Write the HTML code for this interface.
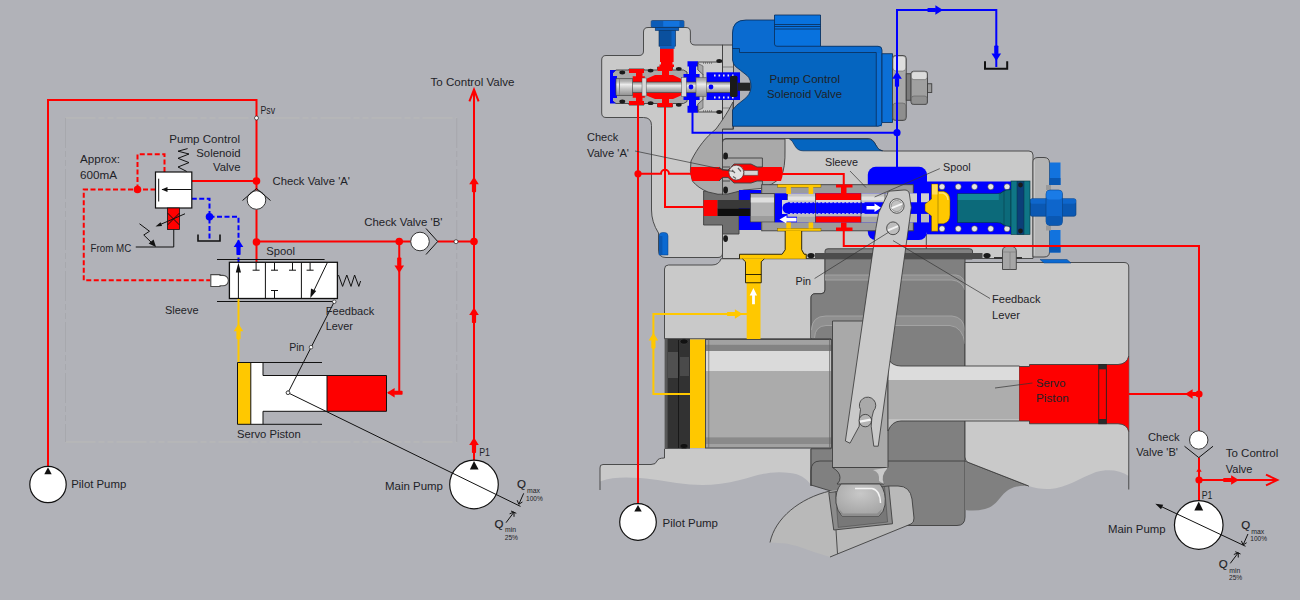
<!DOCTYPE html>
<html lang="en"><head><meta charset="utf-8"><title>Pump Control Solenoid Valve</title>
<style>
html,body{margin:0;padding:0;background:#b1b2b8;overflow:hidden}
svg{display:block}
text{font-family:"Liberation Sans",sans-serif;fill:#1e2227}
.r{stroke:#fe0000;stroke-width:2;fill:none}
.b{stroke:#0000ff;stroke-width:2;fill:none}
.y{stroke:#ffc800;stroke-width:2;fill:none}
.k{stroke:#111;stroke-width:1;fill:none}
.o{stroke:#3e3e3e;stroke-width:0.9}
</style></head><body>
<svg width="1300" height="600" viewBox="0 0 1300 600">
<rect width="1300" height="600" fill="#b1b2b8"/>

<g id="schematic">
<path d="M65.5,118 H456.7 M65.5,442 H456.7" fill="none" stroke="#bdbdb8" stroke-width="0.8" stroke-dasharray="30 3 6 3 6 3"/><path d="M65.5,118 V442 M456.7,118 V442" fill="none" stroke="#a3a4a8" stroke-width="0.7" stroke-dasharray="30 3 6 3 6 3"/>
<path class="r" d="M48,467 V100 H256.5 V190.5 M256.5,209.5 V262.5 M191.75,181 H256.5 M256.5,241.5 H410.6 M437.5,241.5 H474 M474,461 V90 M399.25,241.5 V392.75 H388"/>
<path d="M469.4,101.4 L474,89.6 L478.6,101.4" fill="none" stroke="#fe0000" stroke-width="2" stroke-linejoin="miter"/>
<circle cx="256.5" cy="181" r="3.8" fill="#fe0000"/>
<circle cx="256.5" cy="242" r="3.8" fill="#fe0000"/>
<circle cx="399.25" cy="241.5" r="3.8" fill="#fe0000"/>
<circle cx="474" cy="241.5" r="3.8" fill="#fe0000"/>
<g transform="translate(474 176.7) rotate(0) scale(1.0)" fill="#fe0000"><path d="M0,0 L4.8,7.6 L-4.8,7.6 Z"/><rect x="-2.1" y="7" width="4.2" height="8.6" rx="0.8"/></g>
<g transform="translate(474 307.5) rotate(0) scale(1.0)" fill="#fe0000"><path d="M0,0 L4.8,7.6 L-4.8,7.6 Z"/><rect x="-2.1" y="7" width="4.2" height="8.6" rx="0.8"/></g>
<g transform="translate(474 437.5) rotate(0) scale(1.0)" fill="#fe0000"><path d="M0,0 L4.8,7.6 L-4.8,7.6 Z"/><rect x="-2.1" y="7" width="4.2" height="8.6" rx="0.8"/></g>
<g transform="translate(399.25 273) rotate(180) scale(1.0)" fill="#fe0000"><path d="M0,0 L4.8,7.6 L-4.8,7.6 Z"/><rect x="-2.1" y="7" width="4.2" height="8.6" rx="0.8"/></g>
<g transform="translate(387 392.75) rotate(270) scale(1.0)" fill="#fe0000"><path d="M0,0 L4.8,7.6 L-4.8,7.6 Z"/><rect x="-2.1" y="7" width="4.2" height="8.6" rx="0.8"/></g>
<circle cx="256.5" cy="118" r="2" fill="#fff" stroke="#222" stroke-width="0.7"/>
<circle cx="456" cy="241.7" r="2" fill="#fff" stroke="#222" stroke-width="0.7"/>
<path d="M155.5,189.5 H83.75 V280.25 H210 M137.5,189.5 V154.25 H164.5 V172" fill="none" stroke="#fe0000" stroke-width="2" stroke-dasharray="5 2.5"/>
<circle cx="137.5" cy="189.5" r="3.8" fill="#fe0000"/>
<path d="M191.75,198.75 H209.5 V240 M209.5,216.75 H238.5 V250" fill="none" stroke="#0000ff" stroke-width="2" stroke-dasharray="5 2.5"/>
<path d="M238.5,250 V262" stroke="#0000ff" stroke-width="2" stroke-dasharray="5 2.5" fill="none"/>
<circle cx="209.5" cy="216.75" r="3.8" fill="#0000ff"/>
<g transform="translate(238.5 239.5) rotate(0) scale(1.0)" fill="#0000ff"><path d="M0,0 L4.8,7.6 L-4.8,7.6 Z"/><rect x="-2.1" y="7" width="4.2" height="8.6" rx="0.8"/></g>
<path d="M198,234.5 V241 H220 V234.5" fill="none" stroke="#111" stroke-width="1.6"/>
<rect x="155.5" y="172" width="36.3" height="36" fill="#fff" stroke="#111" stroke-width="1.2"/>
<path class="k" d="M158.7,178.7 V201.5 M162,189.5 H191.5" stroke-width="0.6"/>
<path d="M161.5,189.5 L167.5,187 V192 Z" fill="#111"/>
<path class="k" d="M186.8,171.5 L178,167 L189,162.6 L178,158.3 L189,154 L178,151.2 L187.6,148.6" stroke-width="0.9"/>
<rect x="167.5" y="208" width="12" height="21.5" fill="#fe0000" stroke="#111" stroke-width="0.8"/>
<path class="k" d="M167.5,213 L179.5,225 M179.5,213 L167.5,225" stroke-width="0.8"/>
<path class="k" d="M185,213.75 L158,225.5" stroke-width="0.8"/><path d="M155.5,226.6 L160.6,222.3 L162,226 Z" fill="#111"/>
<path class="k" d="M139.5,223.75 L149.5,231.25 L143.75,235 L153,244" stroke-width="0.9"/><path d="M156,247 L148.6,243.6 L153.6,239.4 Z" fill="#111"/>
<path class="k" d="M173.75,229.5 V247 H135.75" stroke-width="0.8"/>
<circle cx="256.5" cy="200" r="9.3" fill="#fff" stroke="#222" stroke-width="0.9"/>
<path class="k" d="M242.5,200.5 L256.5,188.5 L270.5,200.5" stroke-width="0.9"/>
<circle cx="420" cy="241.5" r="9.3" fill="#fff" stroke="#222" stroke-width="0.9"/>
<path class="k" d="M426,228.5 L437.7,241.5 L426,254.5" stroke-width="0.9"/>
<path class="k" d="M217,259.5 H324.6 M217,301.5 H333.6" stroke-width="1"/>
<rect x="229.4" y="262.3" width="108" height="36.2" fill="#fff" stroke="#111" stroke-width="1.3"/>
<path class="k" d="M265.4,262.3 V298.5 M301.4,262.3 V298.5" stroke-width="1.3"/>
<path class="k" d="M238.4,298 V268 M256.1,262.5 V270.2 M252.6,270.2 H259.6 M274.5,262.5 V270.2 M271,270.2 H278 M292.5,262.5 V270.2 M289,270.2 H296 M274.5,298.5 V290.5 M271,290.5 H278 M310.1,262.5 V270.2 M306.6,270.2 H313.6 M327.4,262.5 L312.5,293.5" stroke-width="0.9"/>
<path d="M238.4,262.8 L241,272.5 H235.8 Z" fill="#111"/><path d="M310.3,298 L311,288.5 L316.2,291 Z" fill="#111"/>
<path d="M210.8,274.6 H220 V275.4 H223 A5.4,5.2 0 0 1 223,285.8 H220 V286.5 H210.8 Z" fill="#fff" stroke="#4a4a4a" stroke-width="1.1"/>
<path class="k" d="M338.5,275 L342.6,286.4 L346.8,275 L351,286.4 L354.6,275 L358.8,286.4 L360.6,281" stroke-width="0.9"/>
<path class="y" d="M238.5,299 V362.5"/>
<g transform="translate(238.5 323.75) rotate(0) scale(1.0)" fill="#ffc800"><path d="M0,0 L4.8,7.6 L-4.8,7.6 Z"/><rect x="-2.1" y="7" width="4.2" height="8.6" rx="0.8"/></g>
<rect x="263" y="375.5" width="64" height="35.8" fill="#fff"/>
<rect x="237.5" y="362.5" width="13.3" height="61.8" fill="#ffc800"/>
<rect x="250.8" y="362.5" width="12.2" height="61.8" fill="#fff"/>
<rect x="327" y="375.5" width="59.5" height="35.8" fill="#fe0000"/>
<path class="k" d="M237.5,362.5 H322 M237.5,424.3 H322 M237.5,362.5 V424.3 M250.8,362.5 V424.3 M263,362.5 V375.5 H386.5 V411.3 H263 V424.3 M327,375.5 V411.3" stroke-width="0.9"/>
<path class="k" d="M334.25,301.75 L288,392.75" stroke-width="0.8"/>
<circle cx="334.25" cy="301.75" r="1.8" fill="#fff" stroke="#222" stroke-width="0.7"/>
<circle cx="311" cy="347.2" r="1.8" fill="#fff" stroke="#222" stroke-width="0.7"/>
<circle cx="288" cy="392.75" r="1.8" fill="#fff" stroke="#222" stroke-width="0.7"/>
<circle cx="48" cy="484.5" r="18.2" fill="#fff" stroke="#111" stroke-width="1.2"/><path d="M48,467.3 L51.7,474.3 H44.3 Z" fill="#111"/>
<circle cx="474" cy="484.5" r="24.3" fill="#fff" stroke="#111" stroke-width="1.2"/><path d="M474,461 L478.6,469.5 H469.9 Z" fill="#111"/>
<path class="k" d="M288,392.75 L520.5,506.4" stroke-width="0.8"/><circle cx="288" cy="392.75" r="1.8" fill="#fff" stroke="#222" stroke-width="0.7"/>
<text x="517" y="488.4" font-size="11.5" fill="#111" stroke="#111" stroke-width="0.15">Q</text><text x="527" y="493" font-size="6.8" textLength="13" lengthAdjust="spacingAndGlyphs">max</text><text x="526" y="500.7" font-size="6.8" textLength="16.7" lengthAdjust="spacingAndGlyphs">100%</text><path class="k" d="M523.7,493.3 L519,503.8 M517.2,500.2 L518.8,504.3 L522.4,502" stroke-width="0.7"/><text x="494.4" y="527.6" font-size="11.5" fill="#111" stroke="#111" stroke-width="0.15">Q</text><text x="505" y="532" font-size="6.8" textLength="11" lengthAdjust="spacingAndGlyphs">min</text><text x="504.7" y="539.6" font-size="6.8" textLength="13.3" lengthAdjust="spacingAndGlyphs">25%</text><path class="k" d="M506,522.7 L513.6,512.6 M509.6,513.8 L514,512 L514,516.8 M511,511 L516.3,513.3" stroke-width="0.7"/>
<text x="260.5" y="113.75" font-size="10" textLength="14.5" lengthAdjust="spacingAndGlyphs">Psv</text>
<text x="169.25" y="142.5" font-size="11.1" textLength="70.75" lengthAdjust="spacingAndGlyphs">Pump Control</text>
<text x="196.25" y="157" font-size="11.1" textLength="44.25" lengthAdjust="spacingAndGlyphs">Solenoid</text>
<text x="213" y="171.25" font-size="11.1" textLength="27.5" lengthAdjust="spacingAndGlyphs">Valve</text>
<text x="80" y="163" font-size="11.1" textLength="40" lengthAdjust="spacingAndGlyphs">Approx:</text>
<text x="80" y="178.75" font-size="11.1" textLength="37" lengthAdjust="spacingAndGlyphs">600mA</text>
<text x="272.5" y="185" font-size="11.1" textLength="77.5" lengthAdjust="spacingAndGlyphs">Check Valve 'A'</text>
<text x="90.5" y="251.75" font-size="10" textLength="40.75" lengthAdjust="spacingAndGlyphs">From MC</text>
<text x="266.25" y="255" font-size="11.1" textLength="28.75" lengthAdjust="spacingAndGlyphs">Spool</text>
<text x="165" y="314" font-size="11.1" textLength="33.5" lengthAdjust="spacingAndGlyphs">Sleeve</text>
<text x="364.25" y="225.75" font-size="11.1" textLength="78.25" lengthAdjust="spacingAndGlyphs">Check Valve 'B'</text>
<text x="325.75" y="314.5" font-size="11.1" textLength="48.5" lengthAdjust="spacingAndGlyphs">Feedback</text>
<text x="325.75" y="330" font-size="11.1" textLength="27.25" lengthAdjust="spacingAndGlyphs">Lever</text>
<text x="289.25" y="350.75" font-size="11.1" textLength="15.25" lengthAdjust="spacingAndGlyphs">Pin</text>
<text x="237" y="438" font-size="11.1" textLength="63.75" lengthAdjust="spacingAndGlyphs">Servo Piston</text>
<text x="71.25" y="488.25" font-size="11.1" textLength="55.0" lengthAdjust="spacingAndGlyphs">Pilot Pump</text>
<text x="385" y="489.5" font-size="11.1" textLength="58" lengthAdjust="spacingAndGlyphs">Main Pump</text>
<text x="479.25" y="456.25" font-size="10" textLength="10.75" lengthAdjust="spacingAndGlyphs">P1</text>
<text x="430.5" y="85.75" font-size="11.1" textLength="84.0" lengthAdjust="spacingAndGlyphs">To Control Valve</text>
</g>
<defs>
<linearGradient id="gs" x1="0" y1="0" x2="0" y2="1"><stop offset="0" stop-color="#9a9a9a"/><stop offset="0.18" stop-color="#b8b8b8"/><stop offset="0.35" stop-color="#ececec"/><stop offset="0.6" stop-color="#c4c4c4"/><stop offset="1" stop-color="#909090"/></linearGradient>
<linearGradient id="gp" x1="0" y1="0" x2="0" y2="1"><stop offset="0" stop-color="#a2a2a2"/><stop offset="0.045" stop-color="#a2a2a2"/><stop offset="0.05" stop-color="#838383"/><stop offset="0.105" stop-color="#838383"/><stop offset="0.11" stop-color="#dadada"/><stop offset="0.29" stop-color="#dadada"/><stop offset="0.295" stop-color="#ababab"/><stop offset="0.9" stop-color="#ababab"/><stop offset="0.905" stop-color="#8a8a8a"/><stop offset="0.96" stop-color="#8a8a8a"/><stop offset="0.965" stop-color="#a2a2a2"/><stop offset="1" stop-color="#a2a2a2"/></linearGradient>
<linearGradient id="gn" x1="0" y1="0" x2="0" y2="1"><stop offset="0" stop-color="#9c9c9c"/><stop offset="0.04" stop-color="#9c9c9c"/><stop offset="0.05" stop-color="#dcdcdc"/><stop offset="0.29" stop-color="#dcdcdc"/><stop offset="0.3" stop-color="#adadad"/><stop offset="0.83" stop-color="#adadad"/><stop offset="0.84" stop-color="#c0c0c0"/><stop offset="1" stop-color="#c2c2c2"/></linearGradient>
<radialGradient id="gb" cx="0.5" cy="0.3" r="0.7"><stop offset="0" stop-color="#c8c8c8"/><stop offset="1" stop-color="#a4a4a4"/></radialGradient>
</defs>
<g id="cutaway">
<path d="M664.5,448.75 H811 V485 C806,478 800,474 790,473 C770,470 755,476 740,480 C722,485 705,485.5 690,484.5 C672,483 655,479 640,478 C625,477 612,477 600,481.5 V468 Q599.5,464.5 603,464.5 H651 Q656,464.5 657,461 Q658,458 664.5,458 Z" fill="#c9c9c9"/>
<path d="M600,490 V468 Q599.5,464.5 603,464.5 H651 Q656,464.5 657,461 Q658,458 664.5,458 V448.75 M811,448.75 V486" fill="none" class="o"/>
<path d="M664.5,338.75 V269 Q664.5,265 668.5,265 H712 Q719,265 721,258.75 H825 V290 Q825,293.75 821,293.75 H815 Q811,293.75 811,298 V338.75 Z" fill="#c9c9c9" class="o"/>
<path d="M825,248.75 H972 V258.75 H965 V517 Q965,525.5 957,525.5 H834 V492 L811,485 V448.75 H831 V338.75 H811 V298 Q811,293.75 815,293.75 H821 Q825,293.75 825,290 Z" fill="#808080" class="o"/>
<path d="M825,275 H956 Q964,276 965,285 V290 Q962,281 952,280 H825 Z" fill="#8f8f8f"/>
<path d="M811,338 V330 Q812,316 826,316 H952 Q964,317 965,331 V344 Q963,327 950,325.5 H826 Q815,326 814.5,338 Z" fill="#8f8f8f"/>
<path d="M825,275 H956 Q964,276 965,285 M825,280 H952 Q962,281 965,290 M811.5,330 Q812,316 826,316 H952 Q964,317 965,331 M814.5,338 Q815,326 826,325.5 H950 Q963,327 965,344" fill="none" stroke="#a6a6a6" stroke-width="0.9"/>
<path d="M820,461 H965 M811,486 V471 Q811,461 820,461" fill="none" class="o"/>
<path d="M965,461 L1028.75,486 Q1018,485 1010,489 C1000,494 998,506 985,509 Q975,511.5 965,510 Z" fill="#808080"/>
<path d="M965,461 L1028.75,486" fill="none" class="o"/>
<path d="M965,262.5 H1124 Q1128.75,262.5 1128.75,267 V476 C1120,470 1108,468.5 1096,472 C1080,478 1066,488 1050,489 Q1038,489.5 1028.75,486 L968,462.3 Q965,461 965,457 Z" fill="#c9c9c9"/>
<path d="M965,457 V262.5 H1124 Q1128.75,262.5 1128.75,267 V489.5 M1028.75,486 L968,462.3 Q965,461 965,457" fill="none" class="o"/>
<rect x="665" y="338.75" width="25" height="110" fill="#323232"/><rect x="664.6" y="338.75" width="3" height="110" fill="#585858"/>
<rect x="668" y="352" width="10" height="26" fill="#505050"/><rect x="680" y="357" width="9" height="19" fill="#4a4a4a"/><path d="M678.5,340 V448" stroke="#111" stroke-width="0.8"/>
<ellipse cx="684" cy="341.5" rx="4" ry="2.6" fill="#111" stroke="#444" stroke-width="0.5"/><ellipse cx="684" cy="446" rx="4" ry="2.6" fill="#111" stroke="#444" stroke-width="0.5"/>
<rect x="690" y="339.5" width="15.5" height="108.5" fill="#ffc800"/>
<rect x="705.5" y="339.5" width="125.8" height="108.5" fill="url(#gp)" class="o"/>
<path d="M708.75,339.5 V448 M829.5,339.5 V448" stroke="#666" stroke-width="0.7"/>
<path d="M832.5,321 H888 V467.5 H832.5 Z" fill="#a9a9a9" class="o"/>
<path d="M888,358.75 Q892,366 901,366 H1019.5 V421 H901 Q892,421 888,431 Z" fill="url(#gn)" class="o"/>
<path d="M1019.5,366.5 H1029.5 V364.5 H1118 Q1127,364 1128.75,356 V431.5 Q1127,424 1118,423.75 H1029.5 V421 H1019.5 Z" fill="#fe0000"/>
<path d="M1029.5,364.5 H1118 Q1127,364 1128.75,356 M1029.5,423.75 H1118 Q1127,424 1128.75,431.5 M1019.5,366.5 H1029.5 V364.5 M1019.5,421 H1029.5 V423.75" fill="none" class="o"/>
<rect x="1098.75" y="364.5" width="7.6" height="59.2" fill="none" stroke="#222" stroke-width="0.9"/><rect x="1099" y="364.7" width="7" height="4.6" fill="#2a2a2a"/><rect x="1099" y="419" width="7" height="4.6" fill="#2a2a2a"/>
<path d="M770,542.5 C775,518 800,498 830,491 L888,486 H898 Q910,486 912,499 L914,519 Q914,523 911,524 L830,557 C815,553 800,546 786,543.5 Z" fill="#b9b9b9"/>
<path d="M770,542.5 C775,518 800,498 830,491 M888.75,486 H898 Q910,486 912,499 L914,518 M836,530 L837.5,553.75 M830,557 L911,524 Q914,523 914,518" fill="none" class="o"/>
<path d="M828.75,492.5 L888.75,486 L892.5,523.75 L833.75,530 Z" fill="#8c8c8c" class="o"/>
<path d="M835.5,491.8 L884.5,486.5 L887.6,522 L838.2,527.4 Z" fill="#787878" stroke="#444" stroke-width="0.5"/>
<path d="M832.5,467.5 H888 Q880,472 881,477.5 Q881,481 884,484 H837 Q840.5,481 840,477.5 Q840,472 832.5,467.5 Z" fill="#969696" class="o"/>
<path d="M873,470 Q880,472 879,481 L884,484 Q880,476 888,467.5 Z" fill="#c9c9c9"/>
<path d="M841,484 H880 Q886.5,492 885,505 Q884,512 879,516 H842 Q837,511 836,503 Q835,491 841,484 Z" fill="url(#gb)" class="o"/>
<path d="M855,488.5 H872 Q880,490 880.5,503" fill="none" stroke="#f4f4f4" stroke-width="1.4"/><path d="M839,509 L843,513.5 H877 L882,509 L879,516 H842 Z" fill="#8e8e8e"/>
<path d="M601.7,60 Q601.7,55.5 606,55.5 H639 Q643.5,55.5 643.5,51 V32 Q643.5,27.5 648,27.5 H686 Q690.4,27.5 690.4,32 V40.5 Q690.4,45 695,45 H722.5 V253 Q722.5,257.5 718,257.5 H666 Q658.5,257.5 658.5,250 V233 Q651.5,222 651.5,210 V125.5 Q651.5,117.5 643.5,117.5 H606 Q601.7,117.5 601.7,113 Z" fill="#c9c9c9" class="o"/>
<rect x="722.5" y="45" width="11" height="84" fill="#c4c4c4" class="o"/>
<path d="M722.5,67 H733 M722.5,108 H733" stroke="#555" stroke-width="0.6"/>
<path d="M722.5,142 Q722.5,138.5 726,138.5 H868 Q873,138.5 875.8,145 Q878.5,151 884,151 H1029 Q1033,151 1033,155 V258.5 H722.5 Z" fill="#c9c9c9" class="o"/>
<path d="M926.3,234 V258.5" class="o" fill="none"/>
<path d="M1033,162 Q1033,157.5 1038,157.5 H1044 Q1049.5,157.5 1049.5,163 V252 Q1049.5,257 1044,257 H1033 Z" fill="#b4b4b4" class="o"/>
<path d="M1034.4,160 V255.5" stroke="#c6c6c6" stroke-width="1.2"/>
<rect x="1049.5" y="162.5" width="11" height="22.5" fill="#1273de"/><rect x="1049.5" y="178" width="11" height="7" fill="#0a58b3"/>
<rect x="1049.5" y="230" width="11" height="22.5" fill="#1273de"/><rect x="1049.5" y="246" width="11" height="6.5" fill="#0a58b3"/>
<rect x="1046" y="185" width="5" height="5" fill="#9a9a9a"/><rect x="1046" y="225.5" width="5" height="5" fill="#9a9a9a"/>
<path d="M1040,259.5 H1067 L1071,263 H1044 Z" fill="#0b69d1" stroke="#0a3f7d" stroke-width="0.5"/>
<rect x="1030" y="198.75" width="46" height="17.5" rx="2" fill="#0a58b3" stroke="#0a3f7d" stroke-width="0.6"/>
<rect x="1030" y="198.75" width="46" height="5" rx="2" fill="#0e66cc"/>
<path d="M1046,194 Q1046,190 1050,190 H1058.5 Q1062.5,190 1062.5,194 V221.5 Q1062.5,225.5 1058.5,225.5 H1050 Q1046,225.5 1046,221.5 Z" fill="#0e66cc" stroke="#0a3f7d" stroke-width="0.6"/>
<rect x="1046.4" y="190.4" width="15.7" height="9" rx="3" fill="#1a7be6"/><rect x="1046.4" y="216" width="15.7" height="9" rx="3" fill="#0a58b3"/>
<path d="M703.6,191 H739 V234 H722.5 V225 H703.6 Z" fill="#6f6f6f" class="o"/>
<path d="M733,102 C728,112 722.5,120 716,129 C706,137 698,147 691,161 Q689,171 692.4,181 Q698,188 708,192 Q718,195.5 728,194 L744,190 L760,188.6 Q772,186 781,177 Q785.5,168 785,149 V139 H726 Q722.5,139 722.5,142 V129 H733 Z" fill="#a9a9a9" class="o"/>
<path d="M722.5,129 V195" class="o" fill="none"/>
<path d="M722.5,158 H762.4 V188 M722.5,167 H730 M722.5,181 H730" fill="none" class="o"/>
<path d="M691,167 H719 L722.5,170 H728 L734,164 H751 L757,167 H781.8 Q784,174 781,181 H757 L751,183 H734 L728,177.4 H722.5 L719,181 H692.4 Q689.3,174 691,167 Z" fill="#fe0000"/>
<path d="M719,167 L722.5,170 H728 L734,164 H751 L757,167 H762.4 M719,181 L722.5,177.4 H728 L734,183 H751 L757,181 H762.4" fill="none" class="o"/>
<rect x="744" y="170.6" width="14" height="4.6" fill="#d4d4d4" stroke="#555" stroke-width="0.6"/>
<circle cx="736.3" cy="172.6" r="7.4" fill="#e2e2e2" stroke="#444" stroke-width="0.7"/>
<path d="M732,170 L735,173 M738,168 L741,171.5 M733,176.5 L736,178.5" stroke="#666" stroke-width="1.2" fill="none"/>
<ellipse cx="725.6" cy="156" rx="2.4" ry="3.4" fill="#1a1a1a"/>
<ellipse cx="725.6" cy="190" rx="2.4" ry="3.4" fill="#1a1a1a"/>
<ellipse cx="725.6" cy="238.6" rx="2.4" ry="3.4" fill="#1a1a1a"/>
<rect x="867.8" y="166.8" width="59.2" height="73.2" rx="8" fill="#0000ff"/>
<rect x="927" y="181.5" width="84.5" height="52.8" fill="#0000ff"/>
<rect x="703.6" y="200" width="14" height="16" fill="#fe0000"/>
<path d="M739,190 H761 V230 H739 Z" fill="#0000ff"/>
<rect x="717.6" y="200" width="33" height="8.5" fill="#383838"/><rect x="717.6" y="208.5" width="33" height="7.5" fill="#0e0e0e"/>
<rect x="761.7" y="184.7" width="151.6" height="46.1" fill="#9c9c9c" class="o"/>
<rect x="774.4" y="193.3" width="154.6" height="29.1" fill="#0000ff"/>
<rect x="750.4" y="193.6" width="24" height="28.2" fill="#b2b2b2" class="o"/><rect x="750.8" y="197.5" width="23.2" height="5" fill="#dedede"/><rect x="750.8" y="216" width="23.2" height="5.4" fill="#9c9c9c"/>
<rect x="787.5" y="193.3" width="28" height="9.2" fill="#c6c6c6"/><rect x="787.5" y="196.5" width="28" height="4" fill="#e2e2e2"/>
<rect x="782" y="200" width="6" height="14" fill="#d4d4d4"/>
<rect x="797" y="213.7" width="18.5" height="8.7" fill="#a8a8a8"/><rect x="787.5" y="213.7" width="28" height="3" fill="#c0c0c0"/>
<rect x="815.5" y="193.3" width="45.5" height="6.7" fill="#fe0000"/><rect x="815.5" y="200" width="45.5" height="2.5" fill="#dcdcdc"/>
<rect x="815.5" y="216.3" width="45.5" height="6.1" fill="#fe0000"/><rect x="815.5" y="213.7" width="45.5" height="2.6" fill="#b8b8b8"/>
<rect x="861" y="193.3" width="48" height="9.2" fill="#c2c2c2"/><rect x="861" y="196.5" width="48" height="4" fill="#e0e0e0"/>
<rect x="861" y="213.7" width="48" height="8.7" fill="#a6a6a6"/><rect x="861" y="213.7" width="48" height="3" fill="#c4c4c4"/>
<rect x="909" y="193.3" width="8" height="9.2" fill="#d0d0d0"/><rect x="921" y="193.3" width="8" height="9.2" fill="#d0d0d0"/><rect x="909" y="213.7" width="8" height="8.7" fill="#bcbcbc"/><rect x="921" y="213.7" width="8" height="8.7" fill="#bcbcbc"/>
<path d="M788,202.5 H929 V213.7 H788 A5.6,5.6 0 0 1 788,202.5 Z" fill="#0000ff"/>
<path d="M790,202.6 H866 M790,213.6 H866" stroke="#e8e8e8" stroke-width="0.8" stroke-dasharray="2.5 1.5"/>
<path d="M815.5,193.3 V222.4 M861,193.3 V222.4 M787.5,193.3 V200 M885,193.3 V202.5 M885,213.7 V222.4" stroke="#333" stroke-width="0.6"/>
<path d="M866.5,206 H874.5 V203.6 L881,207.8 L874.5,212 V209.6 H866.5 Z" fill="#fff"/>
<path d="M796.5,217.8 H786.5 V215.6 L779.5,219.6 L786.5,223.6 V221.4 H796.5 Z" fill="#fff"/>
<rect x="777.5" y="184.4" width="43.5" height="2.8" fill="#ffc800" stroke="#6b5500" stroke-width="0.4"/><rect x="777.5" y="228.2" width="43.5" height="2.8" fill="#ffc800" stroke="#6b5500" stroke-width="0.4"/>
<rect x="786.3" y="187" width="4.6" height="7" fill="#ffc800"/><rect x="786.3" y="222.4" width="4.6" height="6" fill="#ffc800"/>
<rect x="808.6" y="187" width="4.6" height="7" fill="#ffc800"/><rect x="808.6" y="222.4" width="4.6" height="6" fill="#ffc800"/>
<path d="M785.2,231 H801.7 V249.75 L804,253.8 H806.25 V258.75 H739.5 V254.25 H782.25 L785.2,249.75 Z" fill="#ffc800"/>
<path d="M785.2,231 V249.75 L782.25,254 M801.7,231 V249.75 L804,254 M739.5,258.75 V254.25 H782.25 M804,254.25 H806.25 V258.75" fill="none" stroke="#1c1600" stroke-width="0.9"/>
<rect x="746.7" y="262" width="13.8" height="77" fill="#ffc800"/>
<path d="M742.5,258.75 H764.25 L761.25,261.75 V282.75 H745.5 V261.75 Z" fill="#ffc800"/>
<path d="M742.5,258.9 L745.5,261.75 V282.75 H761.25 V261.75 L764.25,258.9 M745.5,274.5 H761.25" fill="none" stroke="#1c1600" stroke-width="0.9"/>
<path d="M752.1,304.2 V295.5 H749.7 L753.4,288 L757.1,295.5 H754.9 V304.2 Z" fill="#fff"/>
<path d="M836,184.4 H852.5 V187.6 H846.5 V194 H841 V187.6 H836 Z M841,222.4 H846.5 V227.6 H852.5 V231 H836 V227.6 H841 Z" fill="#fe0000"/>
<path d="M925,204 L931.5,199 V184 H938 V191.2 H943.5 Q950,193 950,200 V215 Q950,222 943.5,223.8 H938 V231.3 H931.5 V216 L925,211 Z" fill="#ffc800" stroke="#5c4a00" stroke-width="0.5"/>
<path d="M938,191.3 V223.7" stroke="#8a6e00" stroke-width="0.6"/><rect x="932" y="184.5" width="5.5" height="10" fill="#ffdc5a"/><path d="M939,193 H943 Q947.5,194.5 948,200" stroke="#ffe27a" stroke-width="1.4" fill="none"/>
<circle cx="942" cy="186.75" r="3" fill="#e4e4e4" stroke="#333" stroke-width="0.5"/><circle cx="942" cy="228.75" r="3" fill="#e4e4e4" stroke="#333" stroke-width="0.5"/>
<circle cx="958.25" cy="186.75" r="3" fill="#e4e4e4" stroke="#333" stroke-width="0.5"/><circle cx="958.25" cy="228.75" r="3" fill="#e4e4e4" stroke="#333" stroke-width="0.5"/>
<circle cx="974.5" cy="186.75" r="3" fill="#e4e4e4" stroke="#333" stroke-width="0.5"/><circle cx="974.5" cy="228.75" r="3" fill="#e4e4e4" stroke="#333" stroke-width="0.5"/>
<circle cx="990.75" cy="186.75" r="3" fill="#e4e4e4" stroke="#333" stroke-width="0.5"/><circle cx="990.75" cy="228.75" r="3" fill="#e4e4e4" stroke="#333" stroke-width="0.5"/>
<circle cx="1007" cy="186.75" r="3" fill="#e4e4e4" stroke="#333" stroke-width="0.5"/><circle cx="1007" cy="228.75" r="3" fill="#e4e4e4" stroke="#333" stroke-width="0.5"/>
<path d="M957.5,193.75 H997 Q1001,193.5 1003,191.5 Q1006,189.5 1011,189.5 V226.5 Q1006,226.5 1003,224.5 Q1001,222.7 997,222.5 H957.5 Z" fill="#0c6a7a" stroke="#063742" stroke-width="0.6"/>
<path d="M1000,193.5 Q1003,192 1004,190.5 V225.5 Q1003,224 1000,222.7" fill="none" stroke="#063742" stroke-width="0.5"/>
<rect x="957.8" y="194" width="41" height="6" fill="#12899a"/>
<rect x="1011" y="181" width="19" height="53.5" fill="#0f7686" stroke="#063742" stroke-width="0.6"/>
<rect x="1017" y="181.3" width="7" height="53" fill="#0b3f78" stroke="#063742" stroke-width="0.5"/><circle cx="1020.5" cy="185" r="2.4" fill="#1a1a1a"/><circle cx="1020.5" cy="231" r="2.4" fill="#1a1a1a"/>
<path d="M659,236 Q659,232.5 662.5,232.5 H664.5 Q668,232.5 668,236 V255 H659 Z" fill="#0b69d1" stroke="#0a3f7d" stroke-width="0.5"/><rect x="659" y="236" width="3.4" height="19" fill="#0a58b3"/>
<path d="M825,258.8 V251 Q825,248.75 828,248.75 H969.5 Q972.5,248.75 972.5,251 V258.8 Z" fill="#808080" class="o"/>
<rect x="815" y="253" width="167.5" height="5.8" fill="#4c4c4c"/>
<ellipse cx="811" cy="255.6" rx="3.6" ry="2.6" fill="#1a1a1a"/><ellipse cx="987" cy="255.6" rx="3.6" ry="2.6" fill="#1a1a1a"/>
<rect x="994" y="257" width="28" height="2" fill="#333"/>
<path d="M1002.5,269.5 V251 Q1002.5,246 1009.4,246 Q1016.3,246 1016.3,251 V269.5 Z" fill="#a6a6a6" class="o"/><path d="M1002.5,252 H1016.3 M1010,252 V269.5" fill="none" stroke="#777" stroke-width="0.6"/>
<path d="M612.5,73 L616,70 H629 V69 H644 V70 H657.5 V67 H672.5 V70 H683.5 L687,72 V101.5 L683.5,103.5 H672.5 V107 H657.5 V103.5 H644 V105 H629 V103.5 H616 L612.5,101 Z" fill="#a8a8a8" class="o"/>
<path d="M610,70 H616 L613,73 V101 L616,103.5 H610 Z" fill="#0000ff"/><rect x="613" y="76" width="4" height="22" fill="#0000ff"/>
<path d="M629,69 H644 V73 H642.5 V76.3 H644.8 V82 H632.7 V76.3 H636 V73 H629 Z M629,105 H644 V101 H642.5 V97.7 H644.8 V92.5 H632.7 V97.7 H636 V101 H629 Z" fill="#fe0000"/>
<path d="M660,48 H673.6 V62 H672.5 V64.5 H674 V67 H672.5 V71 H669 V75 H673 L681,78.7 V82 H646.5 V78.7 L655,75 H662 V71 H657.5 V67 H659.5 V64.5 H661 V62 H660 Z" fill="#fe0000"/>
<path d="M646.5,92.5 H681 V95.4 L673,99 H669 V103 H672.5 V107 H657.5 V103 H662 V99 H655 L646.5,95.4 Z" fill="#fe0000"/>
<path d="M687.5,61.3 H698 V66.5 H696 V74 H699.6 V82 H683.5 V74 H689 V66.5 H687.5 Z M687.5,112.7 H698 V105.8 H696 V100 H699.6 V92.5 H683.5 V100 H689 V105.8 H687.5 Z" fill="#0000ff"/>
<path d="M698,62 H722.5 V112 H698 V104 L703,100 V74 L698,70 Z" fill="#cbcbcb" class="o"/>
<path d="M698,63.5 L703,66 V74.5 L698,70 Z M698,110.5 L703,108 V99.5 L698,104 Z" fill="#a8a8a8" stroke="#3a3a3a" stroke-width="0.5"/>
<path d="M703,63 H713 M703,111 H713" stroke="#444" stroke-width="1" stroke-dasharray="1 1"/>
<rect x="706.5" y="72.3" width="33.5" height="27.7" fill="#0000ff"/>
<path d="M714,75.5 H735 M714,97.5 H735" stroke="#e6e6e6" stroke-width="1.8" stroke-dasharray="1.6 2.9"/>
<path d="M722.5,62 V72.3 M722.5,100 V112" stroke="#3a3a3a" stroke-width="0.8"/>
<rect x="616" y="82" width="115" height="10.5" fill="url(#gs)" stroke="#3a3a3a" stroke-width="0.6"/>
<rect x="616" y="78.7" width="16.7" height="16.7" fill="url(#gs)" stroke="#3a3a3a" stroke-width="0.6"/><rect x="619" y="79" width="1" height="16" fill="#888"/>
<rect x="642" y="78" width="4.2" height="18" fill="#d8d8d8" stroke="#555" stroke-width="0.5"/><rect x="681.7" y="77.5" width="4.6" height="19" fill="#d8d8d8" stroke="#555" stroke-width="0.5"/><rect x="696" y="77.5" width="10.5" height="19" fill="url(#gs)" stroke="#555" stroke-width="0.5"/>
<circle cx="691" cy="87" r="2.4" fill="#0000ff"/><circle cx="711" cy="87" r="2.4" fill="#0000ff"/>
<rect x="730" y="75.8" width="7.5" height="21.2" rx="1.8" fill="#1a1a1a"/><rect x="737.5" y="82.7" width="13" height="8.1" fill="#242424"/>
<ellipse cx="622.3" cy="72.5" rx="2.9" ry="1.9" fill="#1a1a1a"/>
<ellipse cx="622.3" cy="101.5" rx="2.9" ry="1.9" fill="#1a1a1a"/>
<ellipse cx="650.6" cy="70.6" rx="2.9" ry="1.9" fill="#1a1a1a"/>
<ellipse cx="650.6" cy="103.2" rx="2.9" ry="1.9" fill="#1a1a1a"/>
<ellipse cx="678.8" cy="68.8" rx="2.9" ry="1.9" fill="#1a1a1a"/>
<ellipse cx="678.8" cy="104.8" rx="2.9" ry="1.9" fill="#1a1a1a"/>
<ellipse cx="719.2" cy="61" rx="2.9" ry="1.9" fill="#1a1a1a"/>
<ellipse cx="719.2" cy="112" rx="2.9" ry="1.9" fill="#1a1a1a"/>
<rect x="659" y="30" width="16.5" height="16.2" fill="#0a509e" stroke="#0a2c55" stroke-width="0.6"/><rect x="671.5" y="30.5" width="3.6" height="15.4" fill="#0c62c4"/>
<rect x="660" y="46" width="14.6" height="2.8" fill="#0c62c4"/>
<rect x="655.2" y="27.4" width="23.6" height="3.2" fill="#0b5cb8" stroke="#0a2c55" stroke-width="0.5"/>
<rect x="651.2" y="20.5" width="32.8" height="6.8" rx="1.2" fill="#1273de" stroke="#0a2c55" stroke-width="0.6"/><rect x="651.6" y="21" width="11.6" height="6" fill="#0b5cb8"/><rect x="679.5" y="21" width="4" height="6" fill="#0b5cb8"/>
<path d="M732.5,33 Q732.5,20 746,20 H774.5 V15 H820.5 V46.25 H878 Q882,46.25 882,50 V122.5 Q882,126.25 878,126.25 H732.5 V110 Q736,105 742,101 Q751,95 751,87 Q751,79 747,75.5 Q740,70 735.5,66.5 Q733,64 732.5,60 Z" fill="#0565c0"/>
<path d="M732.5,48.5 V33 Q732.5,20 746,20 H774.5 V46.25 H878 Q882,46.25 882,50 V52.5 H739.5 V48.5 Z" fill="#0a6bd0"/>
<rect x="774.5" y="15" width="46" height="31.25" fill="#0872de"/>
<rect x="876.25" y="52.5" width="5.75" height="73.7" fill="#0b6fd6"/>
<path d="M732.5,33 Q732.5,20 746,20 H774.5 V15 H820.5 V46.25 H878 Q882,46.25 882,50 V122.5 Q882,126.25 878,126.25 H732.5 V110 Q736,105 742,101 Q751,95 751,87 Q751,79 747,75.5 Q740,70 735.5,66.5 Q733,64 732.5,60 Z" fill="none" stroke="#0a2c55" stroke-width="0.8"/>
<path d="M732.5,48.5 H739.5 V52.5 H876.25 V126 M774.5,20 V44 Q774.5,46.25 777,46.25 H820.5 M774.5,24.5 H820.5 M774.5,26.5 H820.5 M774.5,29 H820.5" fill="none" stroke="#0a2c55" stroke-width="0.8"/>
<rect x="882" y="53.75" width="10.5" height="68.75" fill="#0b6fd6" stroke="#0a2c55" stroke-width="0.8"/>
<path d="M789.5,139 H868 Q873,139 875.8,145 Q878.5,150.8 882.5,150.8 H803 Q797.5,150.8 794.7,145.5 Q792,139.6 789.5,139 Z" fill="#0565c0" stroke="#0a2c55" stroke-width="0.7"/>
<rect x="892.5" y="55.5" width="13.75" height="65" rx="3" fill="#a8a8a8" class="o"/>
<rect x="893" y="56" width="12.75" height="15" rx="3" fill="#dedede" stroke="#555" stroke-width="0.5"/><rect x="893" y="103" width="12.75" height="17" rx="3" fill="#8e8e8e" stroke="#555" stroke-width="0.5"/>
<rect x="906.25" y="73.75" width="5" height="26.5" fill="#7c7c7c" class="o"/>
<rect x="911" y="71.25" width="16.5" height="33.25" rx="2.5" fill="#a0a0a0" class="o"/>
<rect x="911.4" y="71.6" width="15.7" height="8" rx="2.5" fill="#dcdcdc" stroke="#555" stroke-width="0.5"/><rect x="911.4" y="96" width="15.7" height="8.2" rx="2.5" fill="#909090" stroke="#555" stroke-width="0.5"/>
<rect x="927.5" y="83.75" width="4.25" height="8.75" fill="#9a9a9a" class="o"/>
<path d="M887.4,194.5 Q887,191.4 890,191.1 L904,190 Q908.6,189.6 909.4,194 L911.3,207.5 L878.2,446.2 L873.8,446.2 L871.2,426.2 Q871.5,416 873.5,411 A8.2,8.2 0 1 0 860.5,409.5 Q859,418 859.2,426.2 L850,443.2 L845.4,441 L873.75,245 Q875.5,228 878.75,212.5 Z" fill="#c9c9c9" stroke="#333" stroke-width="0.8" stroke-linejoin="round"/>
<circle cx="896.8" cy="206" r="7.3" fill="#d9d9d9" stroke="#333" stroke-width="0.8"/><circle cx="896.8" cy="206" r="5.6" fill="#c2c2c2" stroke="#666" stroke-width="0.5"/><path d="M891.6,208.2 L902,203.8" stroke="#f6f6f6" stroke-width="2"/>
<circle cx="893" cy="228.3" r="6.4" fill="#bdbdbd" stroke="#333" stroke-width="0.8"/><path d="M888,230.4 L898,226.2" stroke="#f2f2f2" stroke-width="2"/>
<circle cx="865.3" cy="420.6" r="6.2" fill="#b4b4b4" stroke="#333" stroke-width="0.8"/><path d="M860,421.6 L870.6,419.6" stroke="#f4f4f4" stroke-width="2.2"/>
<path class="r" d="M638,104 V504 M665,105 V207 H703.6 M638,173.8 H661 A4,4 0 0 1 669,173.8 H691 M782,174 H843.75 V185 M843.75,230.8 V246 H1199 V431 M1199,457.5 V501.5 M1128.75,394 H1199 M1199,480 H1276"/>
<path d="M1266,474.6 L1277.4,480 L1266,485.4" fill="none" stroke="#fe0000" stroke-width="2"/>
<circle cx="638" cy="173.8" r="3.6" fill="#fe0000"/>
<circle cx="1199" cy="394" r="3.6" fill="#fe0000"/>
<circle cx="1199" cy="480" r="3.6" fill="#fe0000"/>
<g transform="translate(1185 394) rotate(270) scale(1.0)" fill="#fe0000"><path d="M0,0 L4.8,7.6 L-4.8,7.6 Z"/><rect x="-2.1" y="7" width="4.2" height="8.6" rx="0.8"/></g>
<g transform="translate(1238.75 480) rotate(90) scale(1.0)" fill="#fe0000"><path d="M0,0 L4.8,7.6 L-4.8,7.6 Z"/><rect x="-2.1" y="7" width="4.2" height="8.6" rx="0.8"/></g>
<path d="M1199,467.6 L1201.7,471.8 H1196.3 Z" fill="#fe0000"/>
<path class="b" d="M692.5,112 V132.7 H897 M897,167 V10 H996.3 V67"/>
<circle cx="897" cy="132.7" r="3.6" fill="#0000ff"/>
<g transform="translate(897 71.25) rotate(0) scale(1.0)" fill="#0000ff"><path d="M0,0 L4.8,7.6 L-4.8,7.6 Z"/><rect x="-2.1" y="7" width="4.2" height="8.6" rx="0.8"/></g>
<g transform="translate(943 10) rotate(90) scale(1.0)" fill="#0000ff"><path d="M0,0 L4.8,7.6 L-4.8,7.6 Z"/><rect x="-2.1" y="7" width="4.2" height="8.6" rx="0.8"/></g>
<g transform="translate(996.3 61) rotate(180) scale(1.0)" fill="#0000ff"><path d="M0,0 L4.8,7.6 L-4.8,7.6 Z"/><rect x="-2.1" y="7" width="4.2" height="8.6" rx="0.8"/></g>
<path d="M985,61.2 V68.7 H1007.2 V61.2" fill="none" stroke="#111" stroke-width="2"/>
<path class="y" d="M747,314 H653.4 V394 H690"/>
<g transform="translate(742.5 314) rotate(90) scale(1.0)" fill="#ffc800"><path d="M0,0 L4.8,7.6 L-4.8,7.6 Z"/><rect x="-2.1" y="7" width="4.2" height="8.6" rx="0.8"/></g>
<g transform="translate(653.4 333) rotate(0) scale(1.0)" fill="#ffc800"><path d="M0,0 L4.8,7.6 L-4.8,7.6 Z"/><rect x="-2.1" y="7" width="4.2" height="8.6" rx="0.8"/></g>
<circle cx="638" cy="522" r="18.3" fill="#fff" stroke="#111" stroke-width="1.2"/><path d="M638,505 L641.75,511.6 H634.25 Z" fill="#111"/>
<circle cx="1198.75" cy="525" r="24.3" fill="#fff" stroke="#111" stroke-width="1.2"/><path d="M1198.75,501.6 L1203.2,510.6 H1194.3 Z" fill="#111"/>
<path class="k" d="M1245.5,546.25 L1158,505" stroke-width="0.7"/><path d="M1155.3,503.7 L1163.2,504.7 L1161,509.3 Z" fill="#111"/>
<circle cx="1198.75" cy="440" r="9.2" fill="#fff" stroke="#222" stroke-width="0.9"/><path class="k" d="M1184.5,446.25 L1198.75,457.6 L1213,446.25" stroke-width="0.9"/>
<text x="1241.25" y="529.1" font-size="11.5" fill="#111" stroke="#111" stroke-width="0.15">Q</text><text x="1251.25" y="533.7" font-size="6.8" textLength="13.0" lengthAdjust="spacingAndGlyphs">max</text><text x="1250.25" y="541.4" font-size="6.8" textLength="16.7" lengthAdjust="spacingAndGlyphs">100%</text><path class="k" d="M1247.95,534.0 L1243.25,544.5 M1241.45,540.9 L1243.05,545.0 L1246.65,542.7" stroke-width="0.7"/><text x="1218.65" y="568.3000000000001" font-size="11.5" fill="#111" stroke="#111" stroke-width="0.15">Q</text><text x="1229.25" y="572.7" font-size="6.8" textLength="11.0" lengthAdjust="spacingAndGlyphs">min</text><text x="1228.95" y="580.3000000000001" font-size="6.8" textLength="13.3" lengthAdjust="spacingAndGlyphs">25%</text><path class="k" d="M1230.25,563.4000000000001 L1237.85,553.3000000000001 M1233.85,554.5 L1238.25,552.7 L1238.25,557.5 M1235.25,551.7 L1240.55,554.0" stroke-width="0.7"/>
<path d="M635,151 L733,171.5 M850,171 L866,187.5 M939.8,168.6 L874.6,197 M814.6,278.5 L889,232 M893,240.6 L990,298.5 M1032.5,383 L995,388" fill="none" stroke="#333" stroke-width="0.7"/>
<text x="769.5" y="83" font-size="11.1" textLength="70.5" lengthAdjust="spacingAndGlyphs">Pump Control</text>
<text x="767" y="97.5" font-size="11.1" textLength="75" lengthAdjust="spacingAndGlyphs">Solenoid Valve</text>
<text x="587" y="141" font-size="11.1" textLength="31.3" lengthAdjust="spacingAndGlyphs">Check</text>
<text x="587" y="156.5" font-size="11.1" textLength="42" lengthAdjust="spacingAndGlyphs">Valve 'A'</text>
<text x="825" y="165.5" font-size="11.1" textLength="33" lengthAdjust="spacingAndGlyphs">Sleeve</text>
<text x="943" y="170.8" font-size="11.1" textLength="27.6" lengthAdjust="spacingAndGlyphs">Spool</text>
<text x="795.5" y="284.5" font-size="11.1" textLength="15.5" lengthAdjust="spacingAndGlyphs">Pin</text>
<text x="992" y="303" font-size="11.1" textLength="48.5" lengthAdjust="spacingAndGlyphs">Feedback</text>
<text x="992" y="318.75" font-size="11.1" textLength="28" lengthAdjust="spacingAndGlyphs">Lever</text>
<text x="1036" y="386.75" font-size="11.1" textLength="29.5" lengthAdjust="spacingAndGlyphs">Servo</text>
<text x="1036" y="401.75" font-size="11.1" textLength="32.75" lengthAdjust="spacingAndGlyphs">Piston</text>
<text x="1148" y="441.25" font-size="11.1" textLength="31.5" lengthAdjust="spacingAndGlyphs">Check</text>
<text x="1136.25" y="456.25" font-size="11.1" textLength="41.75" lengthAdjust="spacingAndGlyphs">Valve 'B'</text>
<text x="1225.75" y="456.75" font-size="11.1" textLength="52.5" lengthAdjust="spacingAndGlyphs">To Control</text>
<text x="1225.75" y="472.5" font-size="11.1" textLength="26.75" lengthAdjust="spacingAndGlyphs">Valve</text>
<text x="662.5" y="526.75" font-size="11.1" textLength="55.5" lengthAdjust="spacingAndGlyphs">Pilot Pump</text>
<text x="1108" y="533" font-size="11.1" textLength="57.5" lengthAdjust="spacingAndGlyphs">Main Pump</text>
<text x="1201.75" y="498.75" font-size="10" textLength="10.75" lengthAdjust="spacingAndGlyphs">P1</text>
</g>
</svg></body></html>
